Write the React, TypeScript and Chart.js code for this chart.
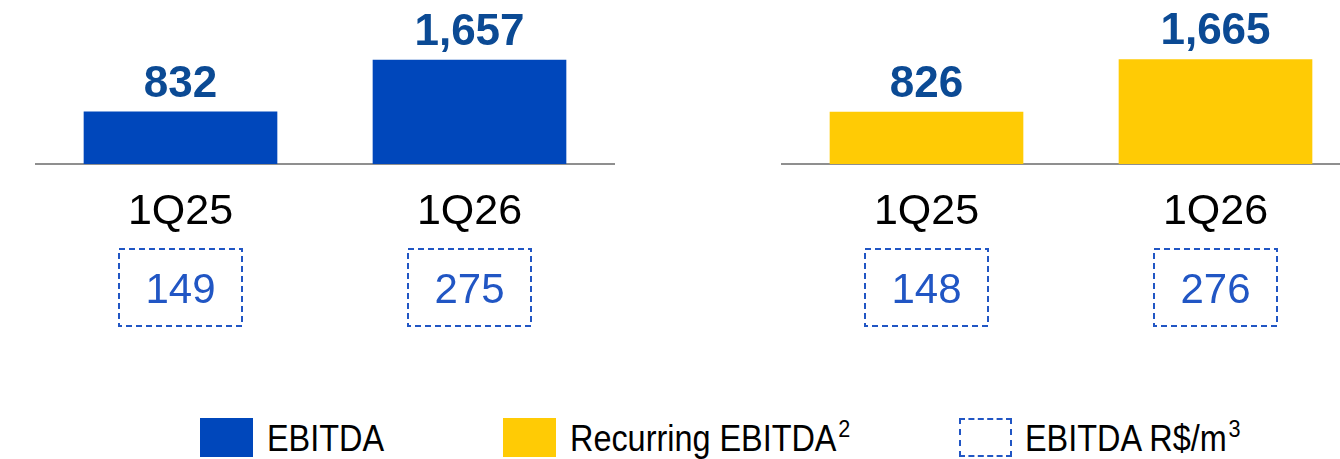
import React, { useEffect, useRef } from "react";
import { Chart, registerables } from "chart.js";

Chart.register(...registerables);

const categories = ["1Q25", "1Q26"];
const ebitdaValues = [832, 1657];
const recurringEbitdaValues = [826, 1665];
const ebitdaPerM3 = [149, 275];
const recurringPerM3 = [148, 276];

const FONT = '"Liberation Sans", Arial, Helvetica, sans-serif';
const BLUE = "#0047BB";
const YELLOW = "#FFCB05";
const LABEL_BLUE = "#0B4A94";
const BOX_BLUE = "#2156C4";

type PanelProps = {
  values: number[];
  perM3: number[];
  color: string;
  name: string;
  left: number;
};

function Panel({ values, perM3, color, name, left }: PanelProps) {
  const ref = useRef<HTMLCanvasElement | null>(null);
  useEffect(() => {
    if (!ref.current) return;
    const overlay = {
      id: "overlay",
      afterDatasetsDraw(chart: any) {
        const ctx = chart.ctx;
        const meta = chart.getDatasetMeta(0);
        const bottom = chart.chartArea.bottom;
        ctx.save();
        meta.data.forEach((bar: any, i: number) => {
          const x = bar.x;
          // value label
          ctx.fillStyle = LABEL_BLUE;
          ctx.font = `bold 44px ${FONT}`;
          ctx.textAlign = "center";
          ctx.textBaseline = "alphabetic";
          ctx.fillText(values[i].toLocaleString("en-US"), x, bar.y - 15);
          // category label
          ctx.fillStyle = "#000000";
          ctx.font = `43px ${FONT}`;
          ctx.fillText(String(chart.data.labels[i]), x, bottom + 60);
          // dashed box
          ctx.strokeStyle = BOX_BLUE;
          ctx.lineWidth = 2;
          ctx.setLineDash([6, 4]);
          ctx.strokeRect(x - 61.5, bottom + 85, 123, 77);
          ctx.setLineDash([]);
          ctx.fillStyle = BOX_BLUE;
          ctx.font = `42px ${FONT}`;
          ctx.fillText(String(perM3[i]), x, bottom + 139);
        });
        ctx.restore();
      },
    };
    const chart = new Chart(ref.current, {
      type: "bar",
      data: {
        labels: categories,
        datasets: [
          {
            label: name,
            data: values,
            backgroundColor: color,
            borderWidth: 0,
            barThickness: 193,
          },
        ],
      },
      options: {
        animation: false,
        responsive: false,
        maintainAspectRatio: false,
        layout: { padding: { left: 36, right: 66, top: 4, bottom: 176 } },
        plugins: {
          legend: { display: false },
          tooltip: { enabled: false },
        },
        scales: {
          x: {
            grid: { display: false, drawTicks: false, tickLength: 0 },
            ticks: { display: false },
            border: { display: true, color: "#8F8F8F", width: 2 },
          },
          y: {
            display: false,
            min: 0,
            max: 2549,
          },
        },
      },
      plugins: [overlay],
    });
    return () => chart.destroy();
  }, []);
  return (
    <canvas
      ref={ref}
      width={680}
      height={340}
      style={{ position: "absolute", left, top: 0, width: 680, height: 340 }}
    />
  );
}

const legendText: React.CSSProperties = {
  position: "absolute",
  top: 421,
  fontFamily: FONT,
  fontSize: 36,
  lineHeight: "36px",
  color: "#000",
  whiteSpace: "nowrap",
  transform: "scaleX(0.9)",
  transformOrigin: "left top",
};

const sup: React.CSSProperties = {
  fontSize: 24,
  position: "relative",
  top: -14,
  marginLeft: 2,
};

export default function App() {
  useEffect(() => {
    document.body.style.margin = "0";
    document.body.style.background = "#fff";
  }, []);
  return (
    <div
      style={{
        position: "relative",
        width: 1340,
        height: 459,
        overflow: "hidden",
        background: "#fff",
      }}
    >
      <Panel values={ebitdaValues} perM3={ebitdaPerM3} color={BLUE} name="EBITDA" left={0} />
      <Panel
        values={recurringEbitdaValues}
        perM3={recurringPerM3}
        color={YELLOW}
        name="Recurring EBITDA"
        left={746}
      />
      <div style={{ position: "absolute", left: 200, top: 418, width: 53, height: 39, background: BLUE }} />
      <div style={{ ...legendText, left: 267 }}>EBITDA</div>
      <div style={{ position: "absolute", left: 503, top: 418, width: 53, height: 39, background: YELLOW }} />
      <div style={{ ...legendText, left: 570 }}>
        Recurring EBITDA<span style={sup}>2</span>
      </div>
      <div
        style={{
          position: "absolute",
          left: 959,
          top: 418,
          width: 49,
          height: 35,
          border: `2px dashed ${BOX_BLUE}`,
        }}
      />
      <div style={{ ...legendText, left: 1025 }}>
        EBITDA R$/m<span style={sup}>3</span>
      </div>
    </div>
  );
}
